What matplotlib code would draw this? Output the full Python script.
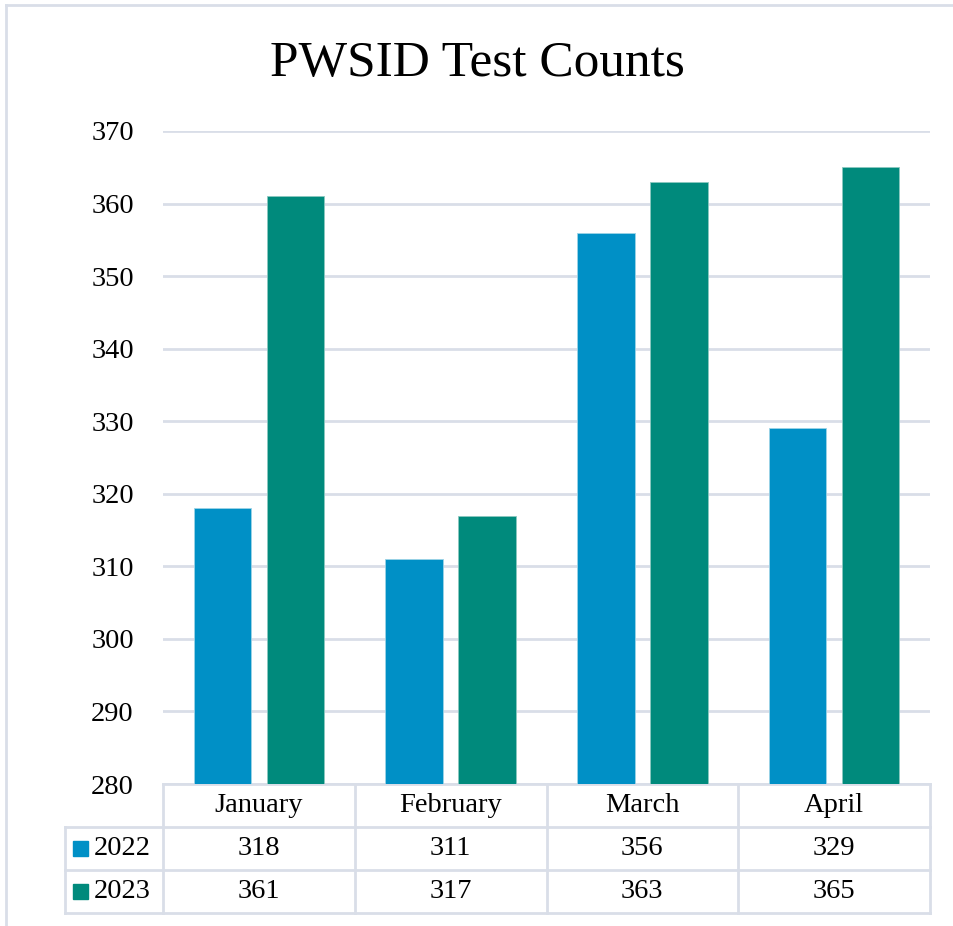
import matplotlib
matplotlib.use("Agg")
import matplotlib.pyplot as plt
from matplotlib.lines import Line2D
from matplotlib.patches import Rectangle
import numpy as np

months = ["January", "February", "March", "April"]
years = ["2022", "2023"]
counts_2022 = [318, 311, 356, 329]
counts_2023 = [361, 317, 363, 365]
colors = ["#0090C6", "#008A7C"]
grid_col = "#D9DEE8"

plt.rcParams['font.family'] = ['Liberation Serif', 'DejaVu Serif']

fig = plt.figure(figsize=(9.54, 9.26), dpi=100)
ax = fig.add_axes([163/954, 1-784/926, 767/954, 653/926])

x = np.arange(len(months))
w = 0.30
off = 0.19
ax.bar(x - off, counts_2022, w, bottom=0, color=colors[0], edgecolor="#9CD3E6", linewidth=0.6, zorder=3)
ax.bar(x + off, counts_2023, w, bottom=0, color=colors[1], edgecolor="#8CC8C0", linewidth=0.6, zorder=3)

ax.set_xlim(-0.5, len(months) - 0.5)
ax.set_ylim(280, 370)
ax.set_yticks(np.arange(280, 371, 10))
ax.yaxis.grid(True, color=grid_col, linewidth=2, zorder=0)
ax.set_axisbelow(True)
ax.tick_params(axis='y', length=0, pad=21, labelsize=20.5)
ax.set_xticks([])
for s in ax.spines.values():
    s.set_visible(False)

fig.text(0.5, 1-64/926, "PWSID Test Counts", ha='center', va='center', fontsize=37)

# data table under the axes
rh = 43/653
left = (65-163)/767
kw = dict(transform=ax.transAxes, color=grid_col, linewidth=2, clip_on=False)
ax.add_line(Line2D([0, 1], [0, 0], **kw))
for i in range(1, 4):
    yy = -i*rh
    ax.add_line(Line2D([left, 1], [yy, yy], **kw))
for xx in [0, 0.25, 0.5, 0.75, 1.0]:
    ax.add_line(Line2D([xx, xx], [0, -3*rh], **kw))
ax.add_line(Line2D([left, left], [-rh, -3*rh], **kw))

fs = 20.5
for j, m in enumerate(months):
    cx = (j + 0.5) / len(months)
    ax.text(cx, -0.5*rh, m, transform=ax.transAxes, ha='center', va='center', fontsize=fs)
    ax.text(cx, -1.5*rh, str(counts_2022[j]), transform=ax.transAxes, ha='center', va='center', fontsize=fs)
    ax.text(cx, -2.5*rh, str(counts_2023[j]), transform=ax.transAxes, ha='center', va='center', fontsize=fs)

for r, (yr, c) in enumerate(zip(years, colors)):
    yc = -(r + 1.5)*rh
    sq = 15/767
    ax.add_patch(Rectangle((left + 8/767, yc - 7.5/653), sq, 15/653, transform=ax.transAxes,
                           color=c, clip_on=False))
    ax.text(left + 29/767, yc, yr, transform=ax.transAxes, ha='left', va='center', fontsize=fs)

# outer frame of the chart
fig.add_artist(Line2D([6/954, 1], [1-5/926, 1-5/926], transform=fig.transFigure, color=grid_col, linewidth=2))
fig.add_artist(Line2D([6/954, 6/954], [0, 1-5/926], transform=fig.transFigure, color=grid_col, linewidth=2))

fig.savefig("out.png", dpi=100, facecolor="white")
